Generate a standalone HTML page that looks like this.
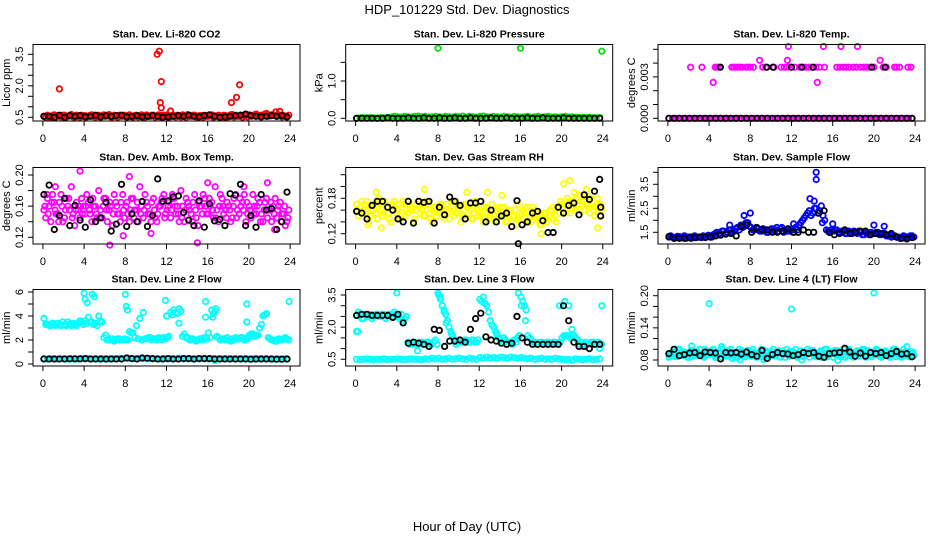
<!DOCTYPE html>
<html><head><meta charset="utf-8"><style>
html,body{margin:0;padding:0;background:#fff}
svg{display:block;font-family:"Liberation Sans",Arial,sans-serif}
</style></head><body>
<svg id="fig" width="936" height="540" viewBox="0 0 936 540">
<text x="467" y="14" font-size="13" text-anchor="middle">HDP_101229  Std. Dev. Diagnostics</text>
<text x="467" y="531" font-size="13" text-anchor="middle">Hour of Day (UTC)</text>
</svg>
<script>
// ---- data ----
const xTicks=[0,4,8,12,16,20,24];
const co2Red=[0.55,0.6,0.5,0.62,0.58,0.52,0.6,0.55,0.63,0.5,0.57,0.6,0.58,0.55,0.62,0.5,0.6,0.57,0.55,0.63,0.52,0.58,0.6,0.55,0.57,0.62,0.5,0.6,0.55,0.58,0.61,0.54,0.6,0.57,0.52,0.6,0.62,0.55,0.58,0.6,0.52,0.57,0.63,0.55,0.6,0.5,0.58,0.6,0.55,0.62,0.57,0.6,0.52,0.58,0.55,0.63,0.6,0.55,0.5,0.6,0.62,0.58,0.65,0.55,0.6,0.68,0.57,0.62,0.55,0.6,0.58,0.52];
const co2Red2=[0.5,0.52,0.58,0.5,0.55,0.6,0.5,0.58,0.52,0.6,0.5,0.55,0.52,0.6,0.55,0.58,0.5,0.62,0.58,0.52,0.6,0.5,0.55,0.6,0.52,0.55,0.58,0.52,0.62,0.5,0.55,0.6,0.5,0.62,0.58,0.55,0.5,0.6,0.52,0.55,0.62,0.5,0.55,0.6,0.52,0.58,0.5,0.55,0.6,0.5,0.55,0.52,0.6,0.5,0.62,0.52,0.55,0.6,0.58,0.52,0.55,0.62,0.58,0.6,0.65,0.55,0.62,0.58,0.6,0.52,0.55,0.6];
const co2Black=[0.55,0.55,0.5,0.6,0.5,0.58,0.55,0.58,0.52,0.55,0.6,0.52,0.57,0.55,0.58,0.6,0.52,0.55,0.58,0.52,0.55,0.58,0.55,0.5,0.52,0.55,0.58,0.55,0.6,0.55,0.52,0.58,0.62,0.55,0.5,0.52,0.55,0.58,0.6,0.65,0.58,0.55,0.52,0.55,0.58,0.55,0.58,0.52];
const co2OutX=[1.6,11.1,11.3,11.5,11.4,11.5,12.4,18.3,18.8,19.1,22.6,23.0];
const co2OutY=[1.85,3.5,3.65,2.2,1.2,0.95,0.8,1.2,1.45,2.05,0.75,0.78];
const presGreen=[0.0,0.01,0.02,0.01,0.02,0.01,0.0,0.02,0.01,0.02,0.03,0.05,0.04,0.03,0.05,0.04,0.03,0.05,0.06,0.04,0.05,0.03,0.04,0.05,0.04,0.03,0.05,0.04,0.03,0.05,0.04,0.06,0.03,0.05,0.04,0.03,0.05,0.06,0.04,0.03,0.05,0.04,0.03,0.05,0.04,0.03,0.05,0.04,0.03,0.04,0.05,0.03,0.04,0.05,0.03,0.04,0.05,0.03,0.04,0.03,0.04,0.05,0.03,0.04,0.03,0.02,0.03,0.02,0.03,0.02,0.01,0.02];
const presBlack=[0,0,0,0,0,0,0.01,0,0,0,0.01,0,0,0.01,0,0,0.01,0,0,0.01,0,0,0.01,0,0,0,0.01,0,0,0.01,0,0,0,0.01,0,0,0.01,0,0,0,0.01,0,0,0,0,0,0,0];
const presOutX=[8.0,16.0,23.9];
const presOutY=[1.88,1.88,1.8];
const tempZero=[0,0,0,0,0,0,0,0,0,0,0,0,0,0,0,0,0,0,0,0,0,0,0,0,0,0,0,0,0,0,0,0,0,0,0,0,0,0,0,0,0,0,0,0,0,0,0,0,0,0,0,0,0,0,0,0,0,0,0,0,0,0,0,0,0,0,0,0,0,0,0,0];
const tempTopX=[2.2,3.3,4.6,4.8,5.0,6.2,6.4,6.6,6.8,7.0,7.2,7.6,7.8,8.0,8.3,9.2,9.5,10.3,11.0,11.3,11.6,12.0,12.3,12.8,13.1,13.4,13.7,14.0,14.4,14.7,15.2,16.4,16.7,17.0,17.3,17.6,18.0,18.3,18.7,19.0,19.3,19.6,20.0,20.9,21.2,22.0,22.2,22.5,23.3,23.6,4.4,14.5,8.9,11.6,20.6,11.7,15.1,16.8,18.4];
const tempTopY=[0.0037,0.0037,0.0037,0.0037,0.0037,0.0037,0.0037,0.0037,0.0037,0.0037,0.0037,0.0037,0.0037,0.0037,0.0037,0.0037,0.0037,0.0037,0.0037,0.0037,0.0037,0.0037,0.0037,0.0037,0.0037,0.0037,0.0037,0.0037,0.0037,0.0037,0.0037,0.0037,0.0037,0.0037,0.0037,0.0037,0.0037,0.0037,0.0037,0.0037,0.0037,0.0037,0.0037,0.0037,0.0037,0.0037,0.0037,0.0037,0.0037,0.0037,0.0026,0.0026,0.0042,0.0042,0.0042,0.0052,0.0052,0.0052,0.0052];
const tempBlack=[0,0,0,0,0,0,0,0,0,0,0,0,0,0,0,0,0,0,0,0,0,0,0,0,0,0,0,0,0,0,0,0,0,0,0,0,0,0,0,0,0,0,0,0,0,0,0,0];
const tempBlackX=[5.1,9.6,10.2,12.0,13.0,14.1,19.8,21.1];
const tempBlackY=[0.0037,0.0037,0.0037,0.0037,0.0037,0.0037,0.0037,0.0037];
const ambA=[0.155,0.17,0.14,0.165,0.15,0.175,0.145,0.16,0.185,0.135,0.155,0.17,0.15,0.165,0.14,0.16,0.18,0.145,0.17,0.155,0.135,0.165,0.15,0.175,0.16,0.14,0.17,0.155,0.185,0.145,0.165,0.15,0.17,0.14,0.16,0.175,0.155,0.145,0.17,0.16,0.18,0.14,0.165,0.15,0.175,0.135,0.16,0.17,0.15,0.165,0.185,0.14,0.17,0.155,0.16,0.145,0.175,0.15,0.165,0.14,0.16,0.175,0.15,0.165,0.14,0.17,0.155,0.16,0.145,0.165,0.15,0.14];
const ambB=[0.145,0.16,0.175,0.15,0.165,0.14,0.17,0.155,0.15,0.165,0.145,0.16,0.175,0.15,0.16,0.145,0.155,0.17,0.14,0.16,0.175,0.15,0.165,0.145,0.15,0.17,0.155,0.14,0.16,0.175,0.15,0.165,0.145,0.16,0.17,0.15,0.165,0.175,0.15,0.14,0.16,0.17,0.155,0.165,0.145,0.16,0.175,0.15,0.16,0.145,0.155,0.175,0.15,0.165,0.14,0.17,0.155,0.16,0.175,0.15,0.145,0.16,0.17,0.15,0.165,0.155,0.14,0.17,0.16,0.15,0.135,0.155];
const ambC=[0.16,0.15,0.165,0.155,0.14,0.16,0.155,0.17,0.145,0.155,0.16,0.15,0.16,0.155,0.17,0.15,0.145,0.16,0.155,0.165,0.15,0.16,0.14,0.155,0.165,0.155,0.145,0.165,0.15,0.155,0.16,0.14,0.155,0.15,0.165,0.145,0.16,0.155,0.16,0.15,0.145,0.155,0.16,0.14,0.155,0.165,0.15,0.16,0.17,0.155,0.145,0.16,0.16,0.145,0.155,0.16,0.145,0.17,0.155,0.165,0.155,0.15,0.16,0.14,0.155,0.145,0.165,0.15,0.155,0.14,0.16,0.145];
const ambOutX=[3.6,8.4,6.5,15.0,7.8,1.2,16.0,21.8,0.4,10.5,19.5,22.5];
const ambOutY=[0.205,0.198,0.11,0.113,0.122,0.185,0.19,0.19,0.175,0.125,0.185,0.13];
const ambBlack=[0.175,0.187,0.13,0.148,0.17,0.135,0.161,0.142,0.133,0.168,0.14,0.145,0.165,0.128,0.137,0.188,0.134,0.15,0.14,0.166,0.134,0.148,0.195,0.166,0.167,0.172,0.173,0.152,0.142,0.135,0.167,0.133,0.163,0.141,0.143,0.135,0.176,0.174,0.188,0.135,0.148,0.133,0.175,0.155,0.157,0.13,0.14,0.178];
const rhA=[0.17,0.165,0.155,0.175,0.15,0.16,0.145,0.17,0.155,0.165,0.14,0.175,0.16,0.15,0.17,0.155,0.165,0.145,0.175,0.16,0.15,0.17,0.14,0.165,0.155,0.17,0.16,0.145,0.175,0.155,0.165,0.15,0.17,0.16,0.145,0.165,0.155,0.14,0.165,0.15,0.16,0.145,0.155,0.165,0.14,0.16,0.15,0.17,0.145,0.155,0.165,0.14,0.16,0.15,0.135,0.155,0.145,0.16,0.15,0.165,0.17,0.155,0.175,0.165,0.18,0.16,0.17,0.185,0.155,0.175,0.165,0.15];
const rhB=[0.15,0.175,0.16,0.14,0.17,0.155,0.18,0.15,0.165,0.145,0.17,0.155,0.145,0.175,0.16,0.165,0.14,0.17,0.155,0.15,0.175,0.145,0.165,0.16,0.17,0.145,0.155,0.175,0.15,0.165,0.14,0.17,0.155,0.145,0.175,0.15,0.165,0.155,0.145,0.17,0.14,0.165,0.15,0.14,0.16,0.15,0.135,0.155,0.16,0.14,0.15,0.165,0.145,0.135,0.155,0.14,0.16,0.145,0.165,0.175,0.155,0.18,0.165,0.19,0.17,0.175,0.16,0.165,0.18,0.15,0.17,0.16];
const rhC=[0.16,0.155,0.17,0.16,0.16,0.17,0.165,0.16,0.175,0.155,0.16,0.165,0.17,0.165,0.15,0.17,0.16,0.16,0.165,0.17,0.16,0.155,0.16,0.15,0.165,0.16,0.17,0.16,0.16,0.17,0.155,0.16,0.165,0.17,0.155,0.16,0.15,0.165,0.155,0.16,0.15,0.155,0.165,0.15,0.15,0.14,0.16,0.145,0.155,0.165,0.14,0.15,0.155,0.145,0.145,0.15,0.15,0.165,0.14,0.155,0.165,0.17,0.155,0.175,0.16,0.185,0.175,0.17,0.165,0.16,0.18,0.17];
const rhOutX=[2.0,6.7,20.2,20.8,18.0,2.5,1.2,10.8,12.8,14.2,22.4,23.5];
const rhOutY=[0.19,0.195,0.205,0.21,0.12,0.13,0.135,0.19,0.19,0.185,0.195,0.13];
const rhBlack=[0.158,0.155,0.145,0.168,0.175,0.175,0.165,0.16,0.145,0.14,0.175,0.138,0.175,0.173,0.175,0.138,0.165,0.152,0.182,0.175,0.168,0.145,0.172,0.172,0.175,0.14,0.16,0.14,0.15,0.155,0.132,0.176,0.135,0.14,0.155,0.158,0.142,0.122,0.122,0.165,0.155,0.168,0.172,0.152,0.186,0.178,0.192,0.212];
const rhBlackX=[15.8,23.8,23.8];
const rhBlackY=[0.103,0.15,0.165];
const sfA=[1.3,1.3,1.28,1.32,1.3,1.25,1.3,1.32,1.28,1.3,1.35,1.3,1.35,1.4,1.5,1.45,1.55,1.5,1.6,1.55,1.7,1.8,1.75,1.9,1.7,1.6,1.65,1.55,1.6,1.5,1.65,1.6,1.55,1.7,1.6,1.55,1.6,1.7,1.8,2.0,2.2,2.4,2.3,2.5,2.4,2.2,1.6,1.5,1.55,1.6,1.5,1.55,1.45,1.5,1.55,1.45,1.5,1.4,1.45,1.5,1.45,1.5,1.4,1.45,1.35,1.3,1.35,1.3,1.28,1.32,1.3,1.35];
const sfB=[1.35,1.25,1.33,1.27,1.35,1.3,1.25,1.35,1.3,1.28,1.3,1.38,1.3,1.45,1.4,1.55,1.45,1.6,1.5,1.65,1.6,1.7,1.9,1.75,1.6,1.7,1.55,1.65,1.5,1.6,1.55,1.7,1.65,1.5,1.55,1.6,1.5,1.6,1.9,2.1,2.3,2.2,2.5,2.3,2.6,2.0,1.55,1.6,1.6,1.5,1.55,1.45,1.55,1.45,1.5,1.55,1.4,1.5,1.4,1.45,1.5,1.4,1.45,1.35,1.4,1.35,1.3,1.25,1.35,1.28,1.35,1.3];
const sfOutX=[7.4,8.0,13.8,14.4,14.4,14.2,6.0,12.2,16.0,15.0,20.0,21.0];
const sfOutY=[2.2,2.3,2.9,3.7,4.0,2.8,1.8,1.85,1.85,1.9,1.8,1.75];
const sfBlack=[1.32,1.25,1.25,1.25,1.27,1.28,1.3,1.28,1.3,1.35,1.38,1.42,1.45,1.35,1.75,1.8,1.5,1.7,1.6,1.6,1.5,1.5,1.55,1.65,1.5,1.5,1.6,1.5,1.5,2.3,2.4,1.5,1.4,1.45,1.6,1.45,1.5,1.55,1.55,1.4,1.45,1.45,1.4,1.45,1.3,1.25,1.22,1.28];
const l2High=[3.8,3.3,3.2,3.3,3.4,3.2,3.3,3.5,3.2,3.3,3.4,3.5,3.6,3.9,3.5,3.4,4.0,3.5,2.4,2.0,2.1,2.0,2.1,2.0,2.05,2.7,2.6,3.2,3.8,4.3,2.1,2.2,2.1,2.0,2.1,2.2,2.2,4.3,4.5,4.2,4.4,2.5,2.2,2.1,2.0,2.0,2.1,2.2,2.6,4.5,4.4,2.2,2.1,2.0,2.0,2.1,2.2,2.1,2.2,2.1,2.4,2.5,2.4,3.0,4.0,4.2,2.1,2.0,1.9,2.0,2.1,2.1];
const l2High2=[3.3,3.2,3.4,3.2,3.3,3.5,3.2,3.3,3.4,3.2,3.6,3.3,3.4,3.5,3.3,3.2,3.6,2.2,2.0,2.1,1.9,2.1,2.0,2.1,2.0,2.6,2.2,2.1,2.0,2.1,2.2,2.0,2.1,2.2,2.0,2.1,2.3,4.1,4.3,4.6,2.3,2.2,2.0,2.1,1.9,2.1,2.0,2.1,2.2,4.2,2.3,2.0,2.1,2.2,1.9,2.0,2.1,2.2,2.0,2.1,2.5,2.3,2.4,3.3,4.1,2.2,2.0,1.9,2.1,2.0,2.2,2.0];
const l2OutX=[4.0,4.1,4.3,4.8,5.0,8.0,8.1,8.2,11.9,12.0,13.2,15.8,15.8,16.5,19.8,19.8,23.9,16.8];
const l2OutY=[5.9,5.4,5.1,5.8,5.6,5.8,4.8,4.5,5.3,4.0,3.4,5.2,3.9,3.9,5.0,3.5,5.2,4.6];
const l2Base=[0.45,0.4,0.45,0.42,0.4,0.45,0.43,0.4,0.45,0.42,0.4,0.45,0.43,0.45,0.4,0.45,0.42,0.45,0.4,0.43,0.45,0.42,0.48,0.45,0.5,0.45,0.42,0.45,0.48,0.45,0.42,0.45,0.43,0.45,0.4,0.45,0.42,0.45,0.43,0.45,0.48,0.45,0.42,0.45,0.4,0.45,0.43,0.45,0.42,0.45,0.3,0.45,0.43,0.45,0.42,0.45,0.4,0.45,0.43,0.45,0.42,0.45,0.4,0.45,0.43,0.45,0.42,0.4,0.45,0.43,0.45,0.42];
const l2Black=[0.42,0.42,0.42,0.42,0.42,0.43,0.43,0.43,0.45,0.42,0.42,0.42,0.42,0.42,0.42,0.42,0.5,0.45,0.42,0.5,0.48,0.45,0.42,0.42,0.45,0.42,0.42,0.45,0.45,0.42,0.45,0.45,0.45,0.42,0.42,0.42,0.42,0.42,0.42,0.42,0.4,0.42,0.42,0.42,0.42,0.4,0.4,0.42];
const l3High=[1.8,2.6,2.4,2.5,2.6,2.5,2.6,2.5,2.6,2.5,2.6,2.7,2.5,2.6,2.4,1.3,1.2,1.3,1.2,1.3,1.2,1.3,1.2,1.4,3.5,3.0,2.6,2.0,1.6,1.2,1.4,1.3,1.4,1.3,1.4,1.3,3.3,3.4,3.0,2.3,2.0,1.6,1.4,1.3,1.2,1.3,1.4,1.5,3.4,3.0,1.6,1.4,1.3,1.2,1.3,1.2,1.3,1.2,1.3,1.2,1.5,1.6,1.6,1.6,1.5,1.2,1.1,1.3,1.2,1.3,1.2,1.0];
const l3High2=[2.7,2.4,2.6,2.5,2.4,2.6,2.5,2.6,2.4,2.6,2.5,2.6,2.4,2.3,2.5,1.2,1.3,1.2,1.3,1.2,1.3,1.2,1.3,1.2,3.3,2.8,2.3,1.8,1.4,1.3,1.3,1.4,1.3,1.4,1.3,1.4,3.2,3.1,2.7,2.1,1.8,1.5,1.3,1.4,1.3,1.2,1.3,1.6,3.2,2.8,1.5,1.3,1.2,1.3,1.2,1.3,1.2,1.3,1.2,1.3,1.6,1.6,1.5,1.6,1.4,1.3,1.2,1.2,1.3,1.2,1.3,1.2];
const l3OutX=[4.0,8.0,8.2,8.6,8.8,13.7,15.8,16.1,16.5,19.8,20.3,20.7,21.0,23.9,6.0,0.2,9.3,14.4];
const l3OutY=[3.6,3.6,3.4,2.7,2.2,1.7,3.6,3.0,2.3,3.0,3.2,3.0,1.9,3.0,0.9,1.8,1.7,1.5];
const l3Base=[0.5,0.48,0.5,0.52,0.5,0.48,0.5,0.5,0.52,0.48,0.5,0.5,0.52,0.5,0.48,0.5,0.52,0.5,0.5,0.48,0.52,0.5,0.55,0.52,0.55,0.5,0.52,0.55,0.5,0.52,0.55,0.52,0.5,0.55,0.52,0.5,0.58,0.55,0.6,0.55,0.58,0.55,0.6,0.58,0.55,0.6,0.58,0.55,0.58,0.55,0.52,0.55,0.5,0.52,0.55,0.5,0.52,0.5,0.55,0.52,0.5,0.48,0.5,0.45,0.52,0.5,0.48,0.5,0.52,0.48,0.5,0.52];
const l3Black=[2.55,2.6,2.6,2.55,2.55,2.55,2.55,2.45,2.6,2.2,1.25,1.3,1.25,1.2,1.1,1.9,1.85,1.1,1.35,1.35,1.4,1.3,1.9,2.4,2.65,1.55,1.4,1.35,1.25,1.2,1.25,2.5,1.5,1.3,1.2,1.2,1.2,1.2,1.2,1.2,3.0,2.3,1.3,1.1,1.1,1.0,1.2,1.2];
const l4A=[0.085,0.095,0.09,0.1,0.088,0.093,0.085,0.097,0.09,0.1,0.087,0.094,0.09,0.1,0.085,0.095,0.092,0.088,0.1,0.09,0.085,0.095,0.09,0.098,0.087,0.093,0.09,0.1,0.085,0.095,0.09,0.088,0.097,0.092,0.085,0.095,0.09,0.1,0.087,0.093,0.09,0.085,0.098,0.09,0.095,0.087,0.1,0.09,0.085,0.095,0.09,0.1,0.088,0.093,0.085,0.097,0.09,0.1,0.087,0.094,0.09,0.098,0.085,0.095,0.092,0.088,0.1,0.09,0.085,0.095,0.09,0.093];
const l4B=[0.092,0.087,0.1,0.09,0.095,0.085,0.098,0.09,0.093,0.087,0.1,0.09,0.095,0.085,0.092,0.1,0.087,0.095,0.083,0.093,0.1,0.088,0.095,0.09,0.1,0.085,0.095,0.09,0.093,0.087,0.1,0.095,0.085,0.09,0.1,0.088,0.093,0.085,0.097,0.09,0.1,0.095,0.087,0.093,0.085,0.1,0.09,0.095,0.098,0.087,0.093,0.085,0.1,0.09,0.095,0.087,0.1,0.085,0.093,0.09,0.1,0.087,0.095,0.09,0.085,0.1,0.093,0.087,0.1,0.09,0.095,0.088];
const l4C=[0.089,0.093,0.086,0.095,0.091,0.088,0.095,0.087,0.096,0.091,0.085,0.092,0.097,0.089,0.094,0.086,0.091,0.097,0.089,0.086,0.093,0.097,0.086,0.092,0.095,0.089,0.086,0.093,0.097,0.088,0.095,0.091,0.086,0.097,0.093,0.087,0.096,0.092,0.089,0.086,0.094,0.097,0.091,0.086,0.097,0.093,0.086,0.092,0.091,0.097,0.086,0.094,0.096,0.087,0.091,0.092,0.095,0.088,0.097,0.086,0.094,0.091,0.088,0.097,0.087,0.094,0.086,0.096,0.092,0.088,0.086,0.095];
const l4OutX=[4.0,12.0,20.0,2.3,5.2,23.2,7.0,16.5,9.3,13.0];
const l4OutY=[0.185,0.175,0.205,0.106,0.105,0.105,0.08,0.079,0.081,0.08];
const l4Black=[0.092,0.1,0.088,0.09,0.093,0.094,0.088,0.095,0.094,0.093,0.082,0.094,0.093,0.094,0.091,0.095,0.09,0.087,0.098,0.083,0.09,0.094,0.092,0.091,0.088,0.09,0.094,0.092,0.094,0.087,0.085,0.092,0.093,0.094,0.102,0.095,0.087,0.093,0.087,0.094,0.092,0.094,0.088,0.092,0.096,0.091,0.092,0.086];

// ---- layout ----
const NS="http://www.w3.org/2000/svg";
const svg=document.getElementById('fig');
const colLeft=[33,345.7,658], rowTop=[44.5,167.5,289.5], boxW=267, boxH=76.5;
function el(tag,attrs,parent){const e=document.createElementNS(NS,tag);for(const k in attrs)e.setAttribute(k,attrs[k]);(parent||svg).appendChild(e);return e;}
function idxX(n,off){const a=[];for(let i=0;i<n;i++)a.push(0.1+(off||0)+i*23.6/(n-1));return a;}

const panels=[
 {name:'co2',title:'Stan. Dev. Li-820 CO2',ylab:'Licor ppm',r:0,c:0,cal:[0.5,117.3,3.5,54.3],ticks:[0.5,1,1.5,2,2.5,3,3.5],labs:[[0.5,'0.5'],[2,'2.0'],[3.5,'3.5']],
  series:[{x:null,y:co2Red,col:'#ff0000'},{x:null,off:0.17,y:co2Red2,col:'#ff0000'},{x:co2OutX,y:co2OutY,col:'#ff0000'},{x:null,y:co2Black,col:'#000'}]},
 {name:'pressure',title:'Stan. Dev. Li-820 Pressure',ylab:'kPa',r:0,c:1,cal:[0,118.3,1,81],ticks:[0,0.5,1,1.5],labs:[[0,'0.0'],[1,'1.0']],
  series:[{x:null,y:presGreen,col:'#00e000'},{x:presOutX,y:presOutY,col:'#00e000'},{x:null,y:presBlack,col:'#000'}]},
 {name:'li820-temp',title:'Stan. Dev. Li-820 Temp.',ylab:'degrees C',r:0,c:2,cal:[0,118.3,0.003,76.9],ticks:[0,0.001,0.002,0.003,0.004,0.005],labs:[[0,'0.000'],[0.003,'0.003']],
  series:[{x:null,y:tempZero,col:'#ff00ff'},{x:tempTopX,y:tempTopY,col:'#ff00ff'},{x:null,y:tempBlack,col:'#000'},{x:tempBlackX,y:tempBlackY,col:'#000'}]},
 {name:'amb-box-temp',title:'Stan. Dev. Amb. Box Temp.',ylab:'degrees C',r:1,c:0,cal:[0.12,237.3,0.2,175],ticks:[0.12,0.14,0.16,0.18,0.2],labs:[[0.12,'0.12'],[0.16,'0.16'],[0.2,'0.20']],
  series:[{x:null,y:ambA,col:'#ff00ff'},{x:null,off:0.17,y:ambB,col:'#ff00ff'},{x:null,off:0.09,y:ambC,col:'#ff00ff'},{x:ambOutX,y:ambOutY,col:'#ff00ff'},{x:null,y:ambBlack,col:'#000'}]},
 {name:'gas-stream-rh',title:'Stan. Dev. Gas Stream RH',ylab:'percent',r:1,c:1,cal:[0.12,233.7,0.18,198.3],ticks:[0.12,0.14,0.16,0.18,0.2,0.22],labs:[[0.12,'0.12'],[0.18,'0.18']],
  series:[{x:null,y:rhA,col:'#ffff00'},{x:null,off:0.17,y:rhB,col:'#ffff00'},{x:null,off:0.09,y:rhC,col:'#ffff00'},{x:rhOutX,y:rhOutY,col:'#ffff00'},{x:null,y:rhBlack,col:'#000'},{x:rhBlackX,y:rhBlackY,col:'#000'}]},
 {name:'sample-flow',title:'Stan. Dev. Sample Flow',ylab:'ml/min',r:1,c:2,cal:[1.5,232.3,3.5,184.3],ticks:[1.5,2,2.5,3,3.5,4],labs:[[1.5,'1.5'],[2.5,'2.5'],[3.5,'3.5']],
  series:[{x:null,y:sfA,col:'#0000ff'},{x:null,off:0.17,y:sfB,col:'#0000ff'},{x:sfOutX,y:sfOutY,col:'#0000ff'},{x:null,y:sfBlack,col:'#000'}]},
 {name:'line2-flow',title:'Stan. Dev. Line 2 Flow',ylab:'ml/min',r:2,c:0,cal:[0,364,6,292],ticks:[0,1,2,3,4,5,6],labs:[[0,'0'],[2,'2'],[4,'4'],[6,'6']],
  series:[{x:null,y:l2High,col:'#00ffff'},{x:null,off:0.17,y:l2High2,col:'#00ffff'},{x:l2OutX,y:l2OutY,col:'#00ffff'},{x:null,y:l2Base,col:'#00ffff'},{x:null,y:l2Black,col:'#000'}]},
 {name:'line3-flow',title:'Stan. Dev. Line 3 Flow',ylab:'ml/min',r:2,c:1,cal:[0.5,359.3,3.5,295],ticks:[0.5,1,1.5,2,2.5,3,3.5],labs:[[0.5,'0.5'],[2,'2.0'],[3.5,'3.5']],
  series:[{x:null,y:l3High,col:'#00ffff'},{x:null,off:0.17,y:l3High2,col:'#00ffff'},{x:l3OutX,y:l3OutY,col:'#00ffff'},{x:null,y:l3Base,col:'#00ffff'},{x:null,y:l3Black,col:'#000'}]},
 {name:'line4-flow',title:'Stan. Dev. Line 4 (LT) Flow',ylab:'ml/min',r:2,c:2,cal:[0.08,360,0.2,295.7],ticks:[0.08,0.1,0.12,0.14,0.16,0.18,0.2],labs:[[0.08,'0.08'],[0.14,'0.14'],[0.2,'0.20']],
  series:[{x:null,y:l4A,col:'#00ffff'},{x:null,off:0.17,y:l4B,col:'#00ffff'},{x:null,off:0.09,y:l4C,col:'#00ffff'},{x:l4OutX,y:l4OutY,col:'#00ffff'},{x:null,y:l4Black,col:'#000'}]}
];

panels.forEach(p=>{
  const L=colLeft[p.c], T=rowTop[p.r], B=T+boxH;
  const xs=v=>L+9.9+v*(boxW-19.8)/24;
  const [v1,p1,v2,p2]=p.cal;
  const ys=v=>p1+(v-v1)*(p2-p1)/(v2-v1);
  const g=el('g',{});
  
  
  const t=el('text',{x:L+boxW/2,y:T-7,'font-size':10.5,'font-weight':'bold','text-anchor':'middle'},g);
  t.textContent=p.title;
  
  
  const pg=el('g',{fill:'none','stroke-width':1.8},g);
  
  
  p.series.forEach(s=>{
    const xv=s.x||idxX(s.y.length,s.off);
    s.y.forEach((v,i)=>{
      const c=el('circle',{cx:xs(xv[i]).toFixed(1),cy:ys(v).toFixed(1),r:2.7,stroke:s.col},pg);
      
      
    });
  });
  const box=el('rect',{x:L,y:T,width:boxW,height:boxH,fill:'none',stroke:'#000','stroke-width':1},g);
  
  
  const xa=el('g',{stroke:'#000','stroke-width':1},g);
  
  
  el('line',{x1:xs(0),x2:xs(24),y1:B,y2:B},xa);
  xTicks.forEach(v=>{
    el('line',{x1:xs(v),x2:xs(v),y1:B,y2:B+5},xa);
    const tx=el('text',{x:xs(v),y:B+21,'font-size':11,'text-anchor':'middle',stroke:'none'},xa);
    tx.textContent=v;
    
    
  });
  const ya=el('g',{stroke:'#000','stroke-width':1},g);
  
  
  el('line',{x1:L,x2:L,y1:ys(p.ticks[0]),y2:ys(p.ticks[p.ticks.length-1])},ya);
  p.ticks.forEach(v=>{el('line',{x1:L-5,x2:L,y1:ys(v),y2:ys(v)},ya);});
  p.labs.forEach(([v,s])=>{
    const tx=el('text',{x:0,y:0,'font-size':11,'text-anchor':'middle',stroke:'none',transform:`translate(${L-10},${ys(v)}) rotate(-90)`},ya);
    tx.textContent=s;
    
    
  });
  const yt=el('text',{x:0,y:0,'font-size':11,'text-anchor':'middle',transform:`translate(${L-23},${T+boxH/2}) rotate(-90)`},g);
  yt.textContent=p.ylab;
  
  
});
</script>
</body></html>
